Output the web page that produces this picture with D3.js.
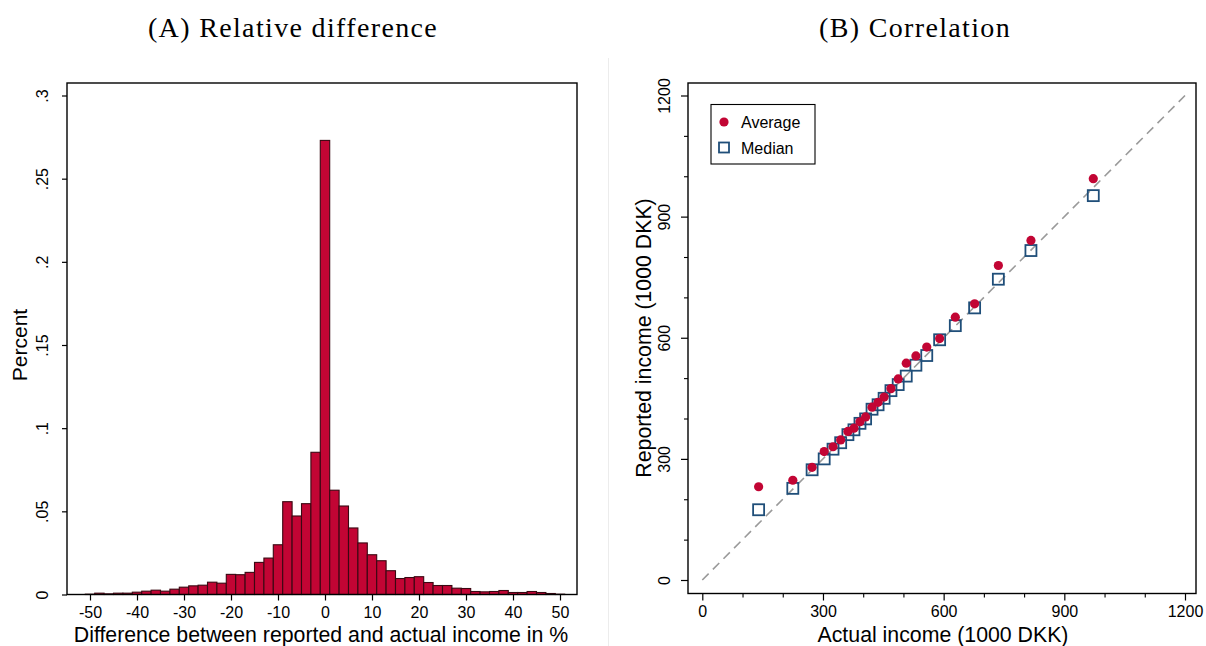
<!DOCTYPE html>
<html><head><meta charset="utf-8">
<script src="https://cdn.jsdelivr.net/npm/d3@7"></script>
<style>
html,body{margin:0;padding:0;background:#fff;}
svg{display:block;}
text{font-family:"Liberation Sans",Arial,sans-serif;fill:#000;}
.ttl{font-family:"Liberation Serif","Times New Roman",serif;font-size:28px;letter-spacing:1.35px;}
</style></head>
<body>
<svg id="c" width="1206" height="646"></svg>
<script>
// ---- Data: panel A (histogram) ----
const binCenters = [-50,-48,-46,-44,-42,-40,-38,-36,-34,-32,-30,-28,-26,-24,-22,-20,-18,-16,-14,-12,-10,-8,-6,-4,-2,0,2,4,6,8,10,12,14,16,18,20,22,24,26,28,30,32,34,36,38,40,42,44,46,48,50];
const binPercent = [0.0002,0.0008,0.0004,0.0008,0.0008,0.0014,0.0020,0.0026,0.0020,0.0032,0.0044,0.0052,0.0056,0.0074,0.0068,0.0121,0.0119,0.0133,0.0193,0.0219,0.0299,0.0558,0.0472,0.0546,0.0855,0.273,0.0627,0.0532,0.0400,0.0310,0.0239,0.0203,0.0143,0.0096,0.0102,0.0107,0.0072,0.0054,0.0054,0.0038,0.0036,0.0018,0.0016,0.0018,0.0024,0.0012,0.0012,0.0018,0.0012,0.0006,0.0002];
const histXTicks = [-50,-40,-30,-20,-10,0,10,20,30,40,50];
const histYTicks = [0,0.05,0.1,0.15,0.2,0.25,0.3];
const histYLabels = ["0",".05",".1",".15",".2",".25",".3"];

// ---- Data: panel B (correlation) ----
const actualIncome = [140,225,273,303,325,344,362,377,392,406,422,437,452,469,487,507,531,558,590,629,677,736,817,972];
const avgReported  = [231,247,279,318,330,347,368,376,392,404,428,440,453,474,498,537,555,577,598,651,684,779,841,994];
const medReported  = [174,227,273,300,324,340,360,372,388,399,423,434,450,469,484,505,532,556,595,630,674,745,816,952];
const corrMajorTicks = [0,300,600,900,1200];
const corrMinorTicks = [100,200,400,500,700,800,1000,1100];

const svg = d3.select("#c");
const RED = "#c20534", NAVY = "#1f4e79";
const fmt = d => String(d);

// divider
svg.append("line").attr("x1",608.5).attr("x2",608.5).attr("y1",58).attr("y2",646)
  .attr("stroke","#ececec").attr("stroke-width",1);

// titles
svg.append("text").attr("class","ttl").attr("x",293).attr("y",37).attr("text-anchor","middle").text("(A) Relative difference");
svg.append("text").attr("class","ttl").attr("x",915).attr("y",37).attr("text-anchor","middle").text("(B) Correlation");

// ================= Panel A =================
const xA = d3.scaleLinear().domain([-50,50]).range([90,560]);
const yA = d3.scaleLinear().domain([0,0.3]).range([594.5,95.5]);
const gA = svg.append("g");

gA.selectAll("rect.bar").data(binCenters).enter().append("rect").attr("class","bar")
  .attr("x",d=>xA(d-1)).attr("width",d=>xA(d+1)-xA(d-1))
  .attr("y",(d,i)=>yA(binPercent[i])).attr("height",(d,i)=>yA(0)-yA(binPercent[i]))
  .attr("fill",RED).attr("stroke","#3a0812").attr("stroke-width",1.1);

gA.append("rect").attr("x",67).attr("y",83).attr("width",510).attr("height",511.5)
  .attr("fill","none").attr("stroke","#000").attr("stroke-width",1.4);

// x axis A
const axA = d3.axisBottom(xA).tickValues(histXTicks).tickSize(6).tickPadding(6).tickFormat(fmt);
const gxA = gA.append("g").attr("transform","translate(0,594.5)").call(axA);
gxA.select(".domain").remove();
gxA.selectAll("line").attr("stroke","#000").attr("stroke-width",1.2);
gxA.selectAll("text").attr("font-size",16).attr("font-family","Liberation Sans, Arial, sans-serif").attr("fill","#000");
gA.append("text").attr("x",321).attr("y",642).attr("text-anchor","middle").attr("font-size",21.3)
  .text("Difference between reported and actual income in %");

// y axis A
const ayA = d3.axisLeft(yA).tickValues(histYTicks).tickSize(5).tickFormat((d,i)=>histYLabels[i]);
const gyA = gA.append("g").attr("transform","translate(67,0)").call(ayA);
gyA.select(".domain").remove();
gyA.selectAll("line").attr("stroke","#000").attr("stroke-width",1.2);
gyA.selectAll("text").attr("font-size",16).attr("font-family","Liberation Sans, Arial, sans-serif").attr("fill","#000")
  .attr("dy",null).attr("text-anchor","middle")
  .attr("transform","translate(-19,0) rotate(-90)").attr("x",0).attr("y",0);
gA.append("text").attr("transform","translate(27,345) rotate(-90)").attr("text-anchor","middle")
  .attr("font-size",21).text("Percent");

// ================= Panel B =================
const xB = d3.scaleLinear().domain([0,1200]).range([702.3,1185]);
const yB = d3.scaleLinear().domain([0,1200]).range([580,95.5]);
const gB = svg.append("g");

gB.append("line").attr("x1",xB(0)).attr("y1",yB(0)).attr("x2",xB(1200)).attr("y2",yB(1200))
  .attr("stroke","#9a9a9a").attr("stroke-width",1.6).attr("stroke-dasharray","9,6");

gB.append("rect").attr("x",688).attr("y",83).attr("width",508).attr("height",510.5)
  .attr("fill","none").attr("stroke","#000").attr("stroke-width",1.4);

// median squares
const sq = 11;
gB.selectAll("rect.med").data(actualIncome).enter().append("rect").attr("class","med")
  .attr("x",d=>xB(d)-sq/2).attr("y",(d,i)=>yB(medReported[i])-sq/2)
  .attr("width",sq).attr("height",sq).attr("fill","none").attr("stroke",NAVY).attr("stroke-width",1.8);
// average dots
gB.selectAll("circle.avg").data(actualIncome).enter().append("circle").attr("class","avg")
  .attr("cx",d=>xB(d)).attr("cy",(d,i)=>yB(avgReported[i])).attr("r",4.6).attr("fill",RED);

// x axis B
const gxB = gB.append("g").attr("transform","translate(0,593.5)")
  .call(d3.axisBottom(xB).tickValues(corrMajorTicks).tickSize(7).tickPadding(5).tickFormat(fmt));
gxB.select(".domain").remove();
gxB.selectAll("line").attr("stroke","#000").attr("stroke-width",1.2);
gxB.selectAll("text").attr("font-size",16).attr("font-family","Liberation Sans, Arial, sans-serif").attr("fill","#000");
const gxBm = gB.append("g").attr("transform","translate(0,593.5)")
  .call(d3.axisBottom(xB).tickValues(corrMinorTicks).tickSize(4).tickFormat(""));
gxBm.select(".domain").remove();
gxBm.selectAll("line").attr("stroke","#000").attr("stroke-width",1.1);
gB.append("text").attr("x",943).attr("y",642).attr("text-anchor","middle").attr("font-size",21.3)
  .text("Actual income (1000 DKK)");

// y axis B
const gyB = gB.append("g").attr("transform","translate(688,0)")
  .call(d3.axisLeft(yB).tickValues(corrMajorTicks).tickSize(7).tickFormat(fmt));
gyB.select(".domain").remove();
gyB.selectAll("line").attr("stroke","#000").attr("stroke-width",1.2);
gyB.selectAll("text").attr("font-size",16).attr("font-family","Liberation Sans, Arial, sans-serif").attr("fill","#000")
  .attr("dy",null).attr("text-anchor","middle")
  .attr("transform","translate(-18,0) rotate(-90)").attr("x",0).attr("y",0);
const gyBm = gB.append("g").attr("transform","translate(688,0)")
  .call(d3.axisLeft(yB).tickValues(corrMinorTicks).tickSize(4).tickFormat(""));
gyBm.select(".domain").remove();
gyBm.selectAll("line").attr("stroke","#000").attr("stroke-width",1.1);
gB.append("text").attr("transform","translate(651,338) rotate(-90)").attr("text-anchor","middle")
  .attr("font-size",21.3).text("Reported income (1000 DKK)");

// legend
const lg = gB.append("g");
lg.append("rect").attr("x",711).attr("y",104.5).attr("width",104).attr("height",59.5)
  .attr("fill","#fff").attr("stroke","#000").attr("stroke-width",1.1);
lg.append("circle").attr("cx",724).attr("cy",122).attr("r",4.6).attr("fill",RED);
lg.append("rect").attr("x",719).attr("y",142.5).attr("width",10).attr("height",10)
  .attr("fill","none").attr("stroke",NAVY).attr("stroke-width",1.8);
lg.append("text").attr("x",741).attr("y",128).attr("font-size",16).text("Average");
lg.append("text").attr("x",741).attr("y",153.5).attr("font-size",16).text("Median");
</script>
</body></html>
